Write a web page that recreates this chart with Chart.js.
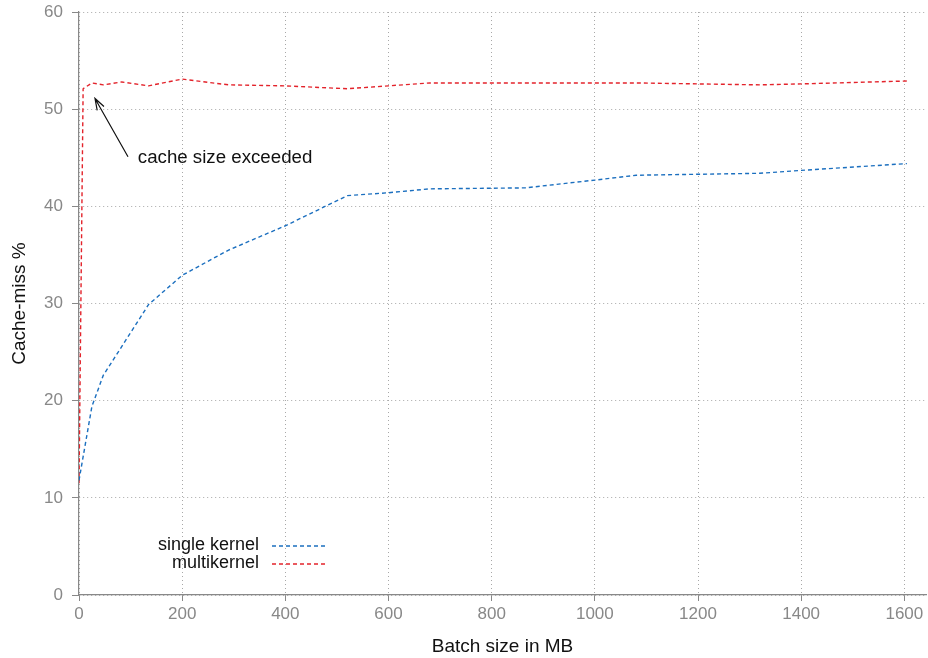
<!DOCTYPE html>
<html>
<head>
<meta charset="utf-8">
<script src="https://cdn.jsdelivr.net/npm/chart.js@4/dist/chart.umd.min.js"></script>
<style>
  html, body { margin: 0; padding: 0; background: #fff; }
  #wrap { width: 928px; height: 658px; }
</style>
</head>
<body>
<div id="wrap"><canvas id="missChart"></canvas></div>
<script>
// batch size (MB) and cache-miss %
const singleX = [0, 25, 47, 135, 200, 290, 400, 520, 600, 680, 865, 1000, 1080, 1200, 1320, 1400, 1605];
const singleY = [11.8, 19.4, 22.6, 29.9, 32.9, 35.5, 38.0, 41.1, 41.4, 41.8, 41.9, 42.7, 43.2, 43.3, 43.4, 43.7, 44.4];

const multiX = [0, 8, 25, 47, 83, 135, 200, 290, 400, 520, 600, 680, 860, 1000, 1080, 1200, 1320, 1400, 1605];
const multiY = [11.5, 52.1, 52.7, 52.5, 52.8, 52.4, 53.1, 52.5, 52.4, 52.1, 52.4, 52.7, 52.7, 52.7, 52.7, 52.6, 52.5, 52.6, 52.9];

const seriesNames = ["single kernel", "multikernel"];
const seriesColors = ["#1b6fbf", "#e3232b"];

const xTickStep = 200;
const yTickStep = 10;

// annotation, in data units
const noteText = "cache size exceeded";
const noteArrow = { fromX: 95, fromY: 45.1, toX: 31, toY: 51.1 };
const noteLabel = { x: 114, y: 45.0 };

const toPoints = (xs, ys) => xs.map((x, i) => ({ x: x, y: ys[i] }));

const lineStyle = (color) => ({
    borderColor: color,
    borderWidth: 1.4,
    borderDash: [4, 3],
    pointRadius: 0,
    showLine: true,
    fill: false,
    tension: 0
});

const noteFont = "18.7px 'Liberation Sans', Arial, sans-serif";
const keyFont = "18px 'Liberation Sans', Arial, sans-serif";

// arrow + text annotation
const notePlugin = {
    id: "note",
    afterDatasetsDraw(chart) {
        const { ctx, scales } = chart;
        const x1 = scales.x.getPixelForValue(noteArrow.fromX);
        const y1 = scales.y.getPixelForValue(noteArrow.fromY);
        const x2 = scales.x.getPixelForValue(noteArrow.toX);
        const y2 = scales.y.getPixelForValue(noteArrow.toY);
        const ang = Math.atan2(y2 - y1, x2 - x1);
        ctx.save();
        ctx.strokeStyle = "#111";
        ctx.lineWidth = 1.2;
        ctx.beginPath();
        ctx.moveTo(x1, y1);
        ctx.lineTo(x2, y2);
        ctx.moveTo(x2 - 12 * Math.cos(ang - 0.33), y2 - 12 * Math.sin(ang - 0.33));
        ctx.lineTo(x2, y2);
        ctx.lineTo(x2 - 12 * Math.cos(ang + 0.33), y2 - 12 * Math.sin(ang + 0.33));
        ctx.stroke();
        ctx.fillStyle = "#111";
        ctx.font = noteFont;
        ctx.textAlign = "left";
        ctx.textBaseline = "middle";
        ctx.fillText(noteText, scales.x.getPixelForValue(noteLabel.x), scales.y.getPixelForValue(noteLabel.y));
        ctx.restore();
    }
};

// legend in the lower-left corner of the plot
const keyPlugin = {
    id: "key",
    afterDatasetsDraw(chart) {
        const { ctx, chartArea } = chart;
        const textRight = chartArea.left + 180;
        ctx.save();
        ctx.font = keyFont;
        ctx.textAlign = "right";
        ctx.textBaseline = "middle";
        seriesNames.forEach((name, i) => {
            const y = chartArea.bottom - 50 + i * 18;
            ctx.fillStyle = "#111";
            ctx.fillText(name, textRight, y);
            ctx.strokeStyle = seriesColors[i];
            ctx.lineWidth = 1.4;
            ctx.setLineDash([4, 3]);
            ctx.beginPath();
            ctx.moveTo(textRight + 13, y + 1);
            ctx.lineTo(textRight + 67, y + 1);
            ctx.stroke();
            ctx.setLineDash([]);
        });
        ctx.restore();
    }
};

const tickFont = { family: "'Liberation Sans', Arial, sans-serif", size: 17 };
const titleFont = { family: "'Liberation Sans', Arial, sans-serif", size: 19 };

const ctx = document.getElementById("missChart").getContext("2d");
const missChart = new Chart(ctx, {
    type: "scatter",
    data: {
        datasets: [
            Object.assign({ label: seriesNames[0], data: toPoints(singleX, singleY) }, lineStyle(seriesColors[0])),
            Object.assign({ label: seriesNames[1], data: toPoints(multiX, multiY) }, lineStyle(seriesColors[1]))
        ]
    },
    options: {
        responsive: true,
        maintainAspectRatio: false,
        animation: false,
        layout: { padding: { top: 12, right: 2, left: 0, bottom: 0 } },
        plugins: {
            legend: { display: false },
            tooltip: { enabled: false }
        },
        scales: {
            x: {
                type: "linear",
                min: 0,
                max: 1642,
                afterFit: (scale) => { scale.height = 63; },
                ticks: {
                    stepSize: xTickStep,
                    includeBounds: false,
                    color: "#888",
                    font: tickFont,
                    padding: 3,
                    maxRotation: 0,
                    callback: (v) => String(v)
                },
                grid: { color: "#a8a8a8", lineWidth: 1, tickLength: 6, tickColor: "#888", tickBorderDash: [] },
                border: { display: true, color: "#888", width: 1.2, dash: [1, 3] },
                title: { display: true, text: "Batch size in MB", color: "#111", font: titleFont, padding: { top: 4, bottom: 0 } }
            },
            y: {
                min: 0,
                max: 60,
                afterFit: (scale) => {
                    scale.width = 79;
                    scale.paddingTop = 0;
                    scale.paddingBottom = 0;
                },
                ticks: {
                    stepSize: yTickStep,
                    color: "#888",
                    font: tickFont,
                    padding: 9,
                    callback: (v) => String(v)
                },
                grid: { color: "#a8a8a8", lineWidth: 1, tickLength: 7, tickColor: "#888", tickBorderDash: [] },
                border: { display: true, color: "#888", width: 1.2, dash: [1, 3] },
                title: { display: true, text: "Cache-miss %", color: "#111", font: titleFont, padding: { top: 8, bottom: 0 } }
            }
        }
    },
    plugins: [notePlugin, keyPlugin]
});
</script>
</body>
</html>
